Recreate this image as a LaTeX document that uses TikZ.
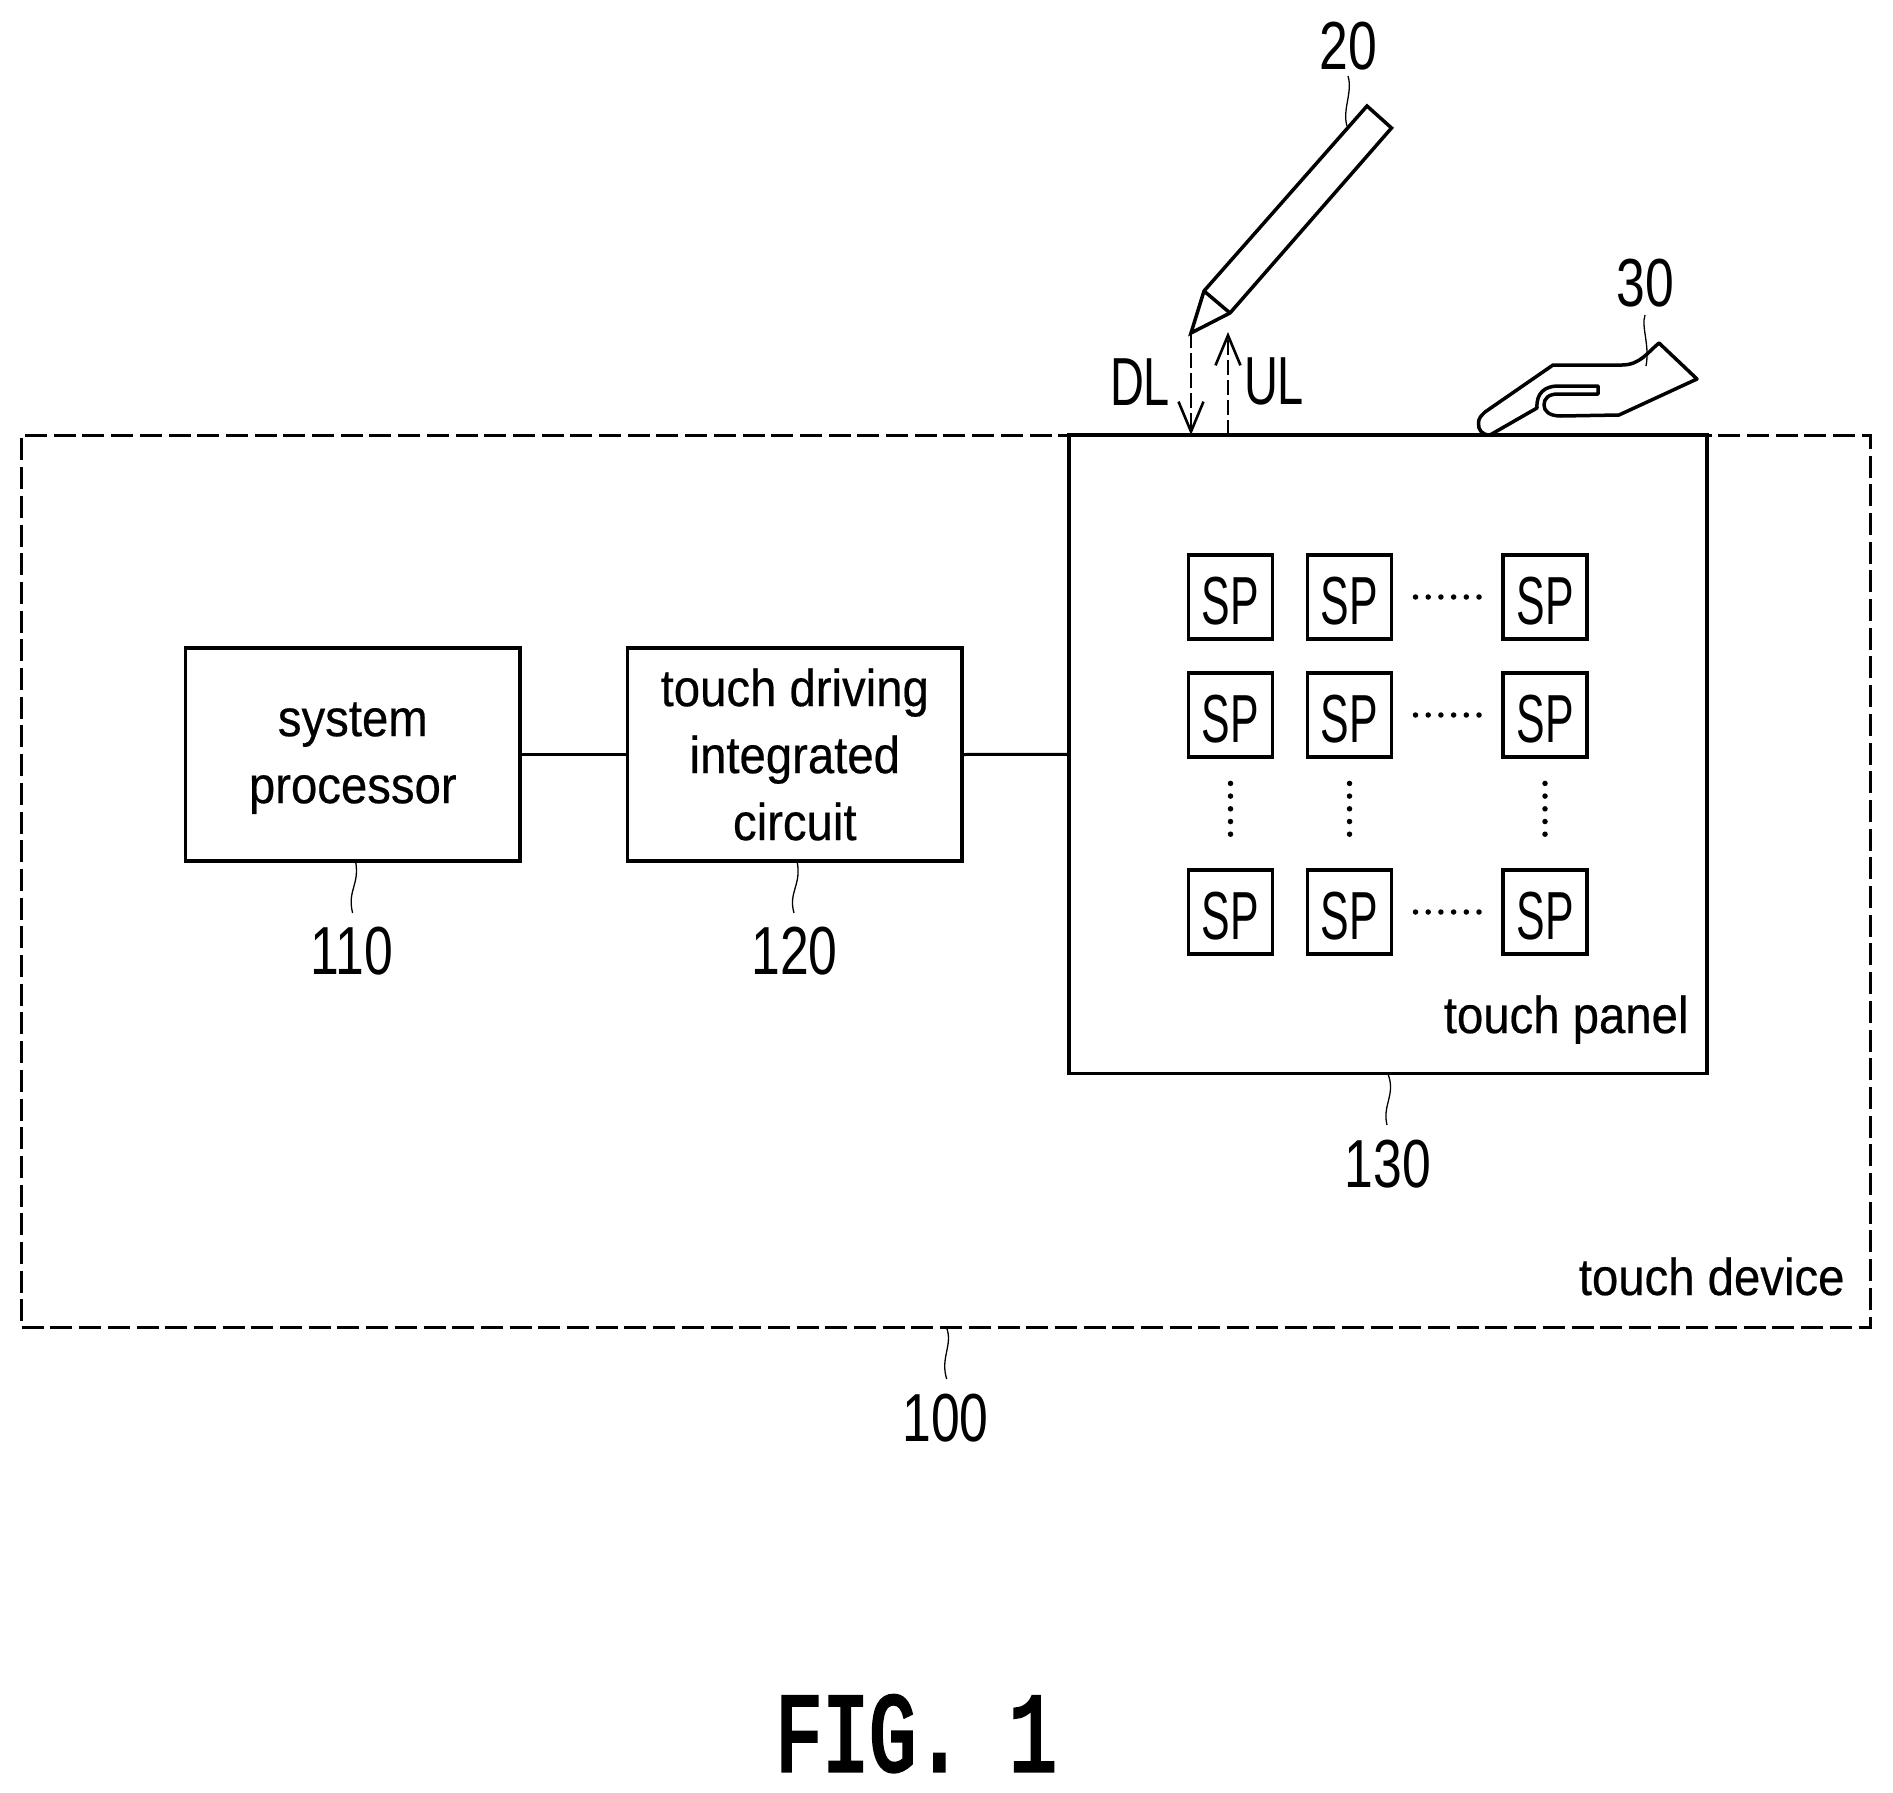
\documentclass[tikz,border=0pt]{standalone}
\usepackage{fontspec}
\usetikzlibrary{arrows.meta}
\setmainfont{Liberation Sans}
\newfontfamily\lblfont[FakeStretch=0.91,FakeBold=0.4]{Liberation Sans}
\newfontfamily\spfont[FakeStretch=0.63]{Liberation Sans}
\newfontfamily\tagfont[FakeStretch=0.69]{Liberation Sans}
\newfontfamily\numfont[FakeStretch=0.76]{Liberation Sans}
\newfontfamily\figfont[FakeStretch=0.69,FakeBold=3]{Liberation Mono}
\tikzset{
  heavy/.style={line width=3.5pt,black},
  box/.style={heavy,draw,fill=white,inner sep=0pt,outer sep=0pt,align=center,
    font=\lblfont\fontsize{52}{67}\selectfont},
  mainbox/.style={box,minimum width=334.4pt,minimum height=213pt},
  spbox/.style={box,minimum width=84pt,minimum height=84pt,font=\spfont\fontsize{68}{68}\selectfont},
  refnum/.style={inner sep=0pt,outer sep=0pt,anchor=south,font=\numfont\fontsize{68}{68}\selectfont},
  caption/.style={inner sep=0pt,outer sep=0pt,anchor=base east,font=\lblfont\fontsize{52}{60}\selectfont},
  sigtag/.style={inner sep=0pt,outer sep=0pt,anchor=south,font=\tagfont\fontsize{68}{68}\selectfont},
  leader/.style={line width=1.3pt,black},
  outline/.style={line width=3.5pt,black,line join=miter},
  wire/.style={line width=3pt,black},
  barb/.style={-{Straight Barb[length=30pt,width=25pt,line width=2.6pt]},line width=2.6pt},
  dotrow/.style={line width=5.5pt,line cap=round,dash pattern=on 0pt off 12.7pt},
}
\begin{document}
\begin{tikzpicture}[x=1pt,y=-1pt]
\useasboundingbox (0,0) rectangle (1893,1793);
% outer dashed device
\node[draw,line width=3pt,dash pattern=on 22pt off 6.7pt,minimum width=1848.3pt,minimum height=892pt,inner sep=0pt,outer sep=0pt] (device) at (945.85,881) {};
% panel
\node[box,minimum width=638pt,minimum height=638.6pt] (panel) at (1388,754.3) {};
% boxes
\node[mainbox] (proc) at (352.8,754.5) {\rule{0pt}{41pt}system\\processor};
\node[mainbox] (tdic) at (794.8,754.5) {touch driving\\integrated\\circuit};
\draw[wire] (proc.east) -- (tdic.west);
\draw[wire] (tdic.east) -- (panel.west);
% SP grid
\foreach \r/\y in {1/597,2/715,3/912}{
  \foreach \c/\x in {1/1230.5,2/1349.5,3/1545}{
    \node[spbox] (sp\r\c) at (\x,\y) {\rule{0pt}{55pt}SP};
  }
  \draw[dotrow] ([xshift=24pt]sp\r2.east) -- ([xshift=-23.5pt]sp\r3.west);
}
\foreach \c in {1,2,3}{
  \draw[dotrow] ([yshift=-26.4pt]sp2\c.south) -- ([yshift=24.5pt]sp3\c.north);
}
% labels
\node[caption] (lpanel) at (1688.5,1033) {touch panel};
\node[caption] (ldevice) at (1844.5,1295) {touch device};
\node[refnum] (n110) at (352,975) {110};
\node[refnum] (n120) at (794.5,975) {120};
\node[refnum] (n130) at (1388,1188) {130};
\node[refnum] (n100) at (945.5,1442) {100};
\node[refnum] (n20) at (1348,70) {20};
\node[refnum] (n30) at (1645.5,307) {30};
\node[sigtag] (dl) at (1140,405.5) {DL};
\node[sigtag] (ul) at (1274,405.5) {UL};
\node[inner sep=0pt,outer sep=0pt,anchor=south,font=\figfont\fontsize{113}{113}\selectfont] (fig) at (916,1772) {FIG. 1};
% leaders
\coordinate (l110) at (352.6,913);
\coordinate (l120) at (794,913);
\coordinate (l130) at (1387,1125);
\coordinate (l100) at (946.7,1379);
\coordinate (l20) at (1348,76);
\coordinate (l30) at (1645,315);
\draw[leader] (355.5,861) .. controls (360,885) and (347,890) .. (l110);
\draw[leader] (797,861) .. controls (802,885) and (788,892) .. (l120);
\draw[leader] (1388,1074) .. controls (1396,1095) and (1382,1105) .. (l130);
\draw[leader] (946.7,1328) .. controls (953,1345) and (940,1358) .. (l100);
% pen
\coordinate (tip) at (1191,333);
\coordinate (collarL) at (1204,291);
\coordinate (collarR) at (1230,313);
\coordinate (topL) at (1367,106);
\coordinate (topR) at (1391.5,128);
\draw[outline] (tip) -- (collarL) -- (topL) -- (topR) -- (collarR) -- cycle;
\draw[outline] (collarL) -- (collarR);
\draw[leader] (l20) .. controls (1353,92) and (1342,110) .. (1347,126);
% hand
\draw[outline,fill=white,line join=round] (1490,435)
  .. controls (1482,435) and (1478,430) .. (1478.5,423)
  .. controls (1478.5,418) and (1481,416) .. (1485,412)
  -- (1553,365) -- (1622,365)
  .. controls (1640,365) and (1648,352) .. (1659,343)
  -- (1697,379) -- (1619,415) -- (1561,416)
  .. controls (1549,416) and (1544,411) .. (1544,405)
  .. controls (1544,398) and (1549,394) .. (1558,394)
  -- (1598,394) -- (1598,386) -- (1558,386)
  .. controls (1545,386) and (1536,393) .. (1537,408)
  -- cycle;
\draw[leader] (l30) .. controls (1641,327) and (1650,345) .. (1646,366);
% signals
\coordinate (dlend) at (1191,435);
\coordinate (ulstart) at (1228,435);
\coordinate (ulend) at (1228,332);
\draw[barb,dash pattern=on 15pt off 5pt] (tip) -- (dlend);
\draw[barb,dash pattern=on 15pt off 5pt] (ulstart) -- (ulend);
\end{tikzpicture}
\end{document}
